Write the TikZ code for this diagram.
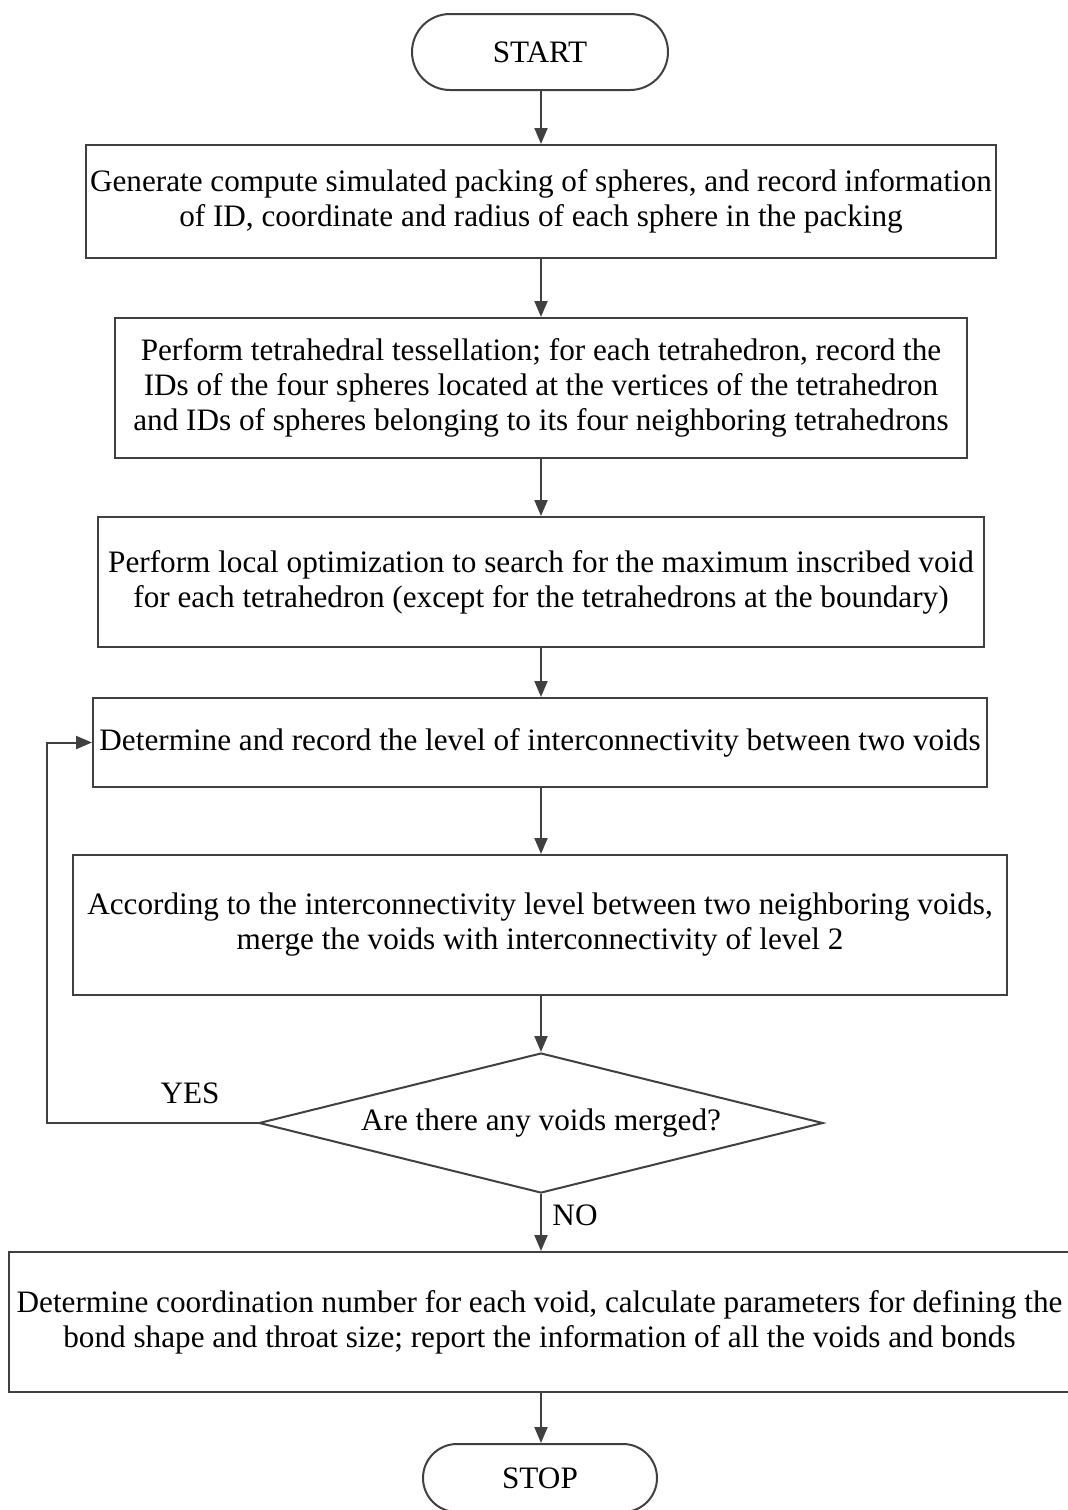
\documentclass[tikz,border=0pt]{standalone}
\usepackage{fontspec}
\setmainfont{Liberation Serif}
\usetikzlibrary{shapes.geometric,arrows.meta,calc}
\definecolor{linec}{HTML}{404040}
\begin{document}
\begin{tikzpicture}[x=0.5pt,y=-0.5pt,
  every node/.style={font=\fontsize{15.6}{17.5}\selectfont, text=black},
  procbox/.style={draw=linec, line width=1pt, rectangle, align=center, inner sep=0pt},
  termbox/.style={draw=linec, line width=1pt, rectangle, rounded corners=#1, inner sep=0pt},
  decbox/.style={draw=linec, line width=1pt, diamond, aspect=4, inner sep=0pt},
  flowarrow/.style={draw=linec, line width=1pt, -{Triangle[length=8pt,width=6.5pt]}},
  plainlabel/.style={inner sep=0pt}
]
\useasboundingbox (0,0) rectangle (1067,1510);
\node[termbox=19pt, minimum width=128pt, minimum height=38pt] (start) at (540,52) {START};
\node[procbox, minimum width=455pt, minimum height=56.5pt] (b1) at (541,201.5)
  {Generate compute simulated packing of spheres, and record information\\of ID, coordinate and radius of each sphere in the packing};
\node[procbox, minimum width=426pt, minimum height=70pt] (b2) at (541,388)
  {Perform tetrahedral tessellation; for each tetrahedron, record the\\IDs of the four spheres located at the vertices of the tetrahedron\\and IDs of spheres belonging to its four neighboring tetrahedrons};
\node[procbox, minimum width=443pt, minimum height=65pt] (b3) at (541,582)
  {Perform local optimization to search for the maximum inscribed void\\for each tetrahedron (except for the tetrahedrons at the boundary)};
\node[procbox, minimum width=447pt, minimum height=44.5pt] (b4) at (540,742.5)
  {Determine and record the level of interconnectivity between two voids};
\node[procbox, minimum width=467pt, minimum height=70pt] (b5) at (540,925)
  {According to the interconnectivity level between two neighboring voids,\\merge the voids with interconnectivity of level 2};
\node[decbox, minimum width=282pt, minimum height=70pt] (dec) at (541,1123)
  {Are there any voids merged?};
\node[procbox, minimum width=530.5pt, minimum height=70pt] (b6) at (539.5,1322)
  {Determine coordination number for each void, calculate parameters for defining the\\bond shape and throat size; report the information of all the voids and bonds};
\node[termbox=17pt, minimum width=117pt, minimum height=34pt] (stop) at (540,1478) {STOP};
\coordinate (loopx) at (47,1123);
\draw[flowarrow] (start.south -| dec.south) -- (dec.south |- b1.north);
\draw[flowarrow] (b1.south -| dec.south) -- (dec.south |- b2.north);
\draw[flowarrow] (b2.south -| dec.south) -- (dec.south |- b3.north);
\draw[flowarrow] (b3.south -| dec.south) -- (dec.south |- b4.north);
\draw[flowarrow] (b4.south -| dec.south) -- (dec.south |- b5.north);
\draw[flowarrow] (b5.south -| dec.south) -- (dec.north);
\draw[flowarrow] (dec.south) -- (dec.south |- b6.north);
\draw[flowarrow] (b6.south -| dec.south) -- (dec.south |- stop.north);
\draw[flowarrow] (dec.west) -- (loopx) |- (b4.west);
\node[plainlabel] (yes) at (190,1093) {YES};
\node[plainlabel] (no) at (575,1215) {NO};
\end{tikzpicture}
\end{document}
